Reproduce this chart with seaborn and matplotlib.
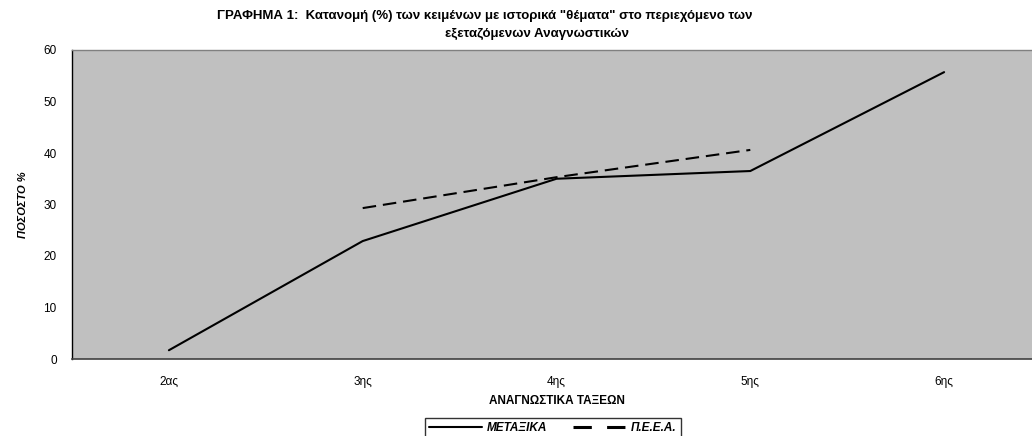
import pandas as pd
import matplotlib
matplotlib.use("Agg")
import matplotlib.pyplot as plt
import seaborn as sns

# data
classes = ["2ας", "3ης", "4ης", "5ης", "6ης"]
metaxika = [1.7, 22.9, 35.0, 36.5, 55.7]
peea_classes = ["3ης", "4ης", "5ης"]
peea = [29.3, 35.3, 40.6]

df = pd.concat([
    pd.DataFrame({"class": classes, "pct": metaxika, "series": "ΜΕΤΑΞΙΚΑ"}),
    pd.DataFrame({"class": peea_classes, "pct": peea, "series": "Π.Ε.Ε.Α."}),
], ignore_index=True)

sns.set_style("white")
plt.rcParams["font.family"] = ["Liberation Sans", "DejaVu Sans"]
plt.rcParams["text.color"] = "black"
plt.rcParams["axes.labelcolor"] = "black"
plt.rcParams["xtick.color"] = "black"
plt.rcParams["ytick.color"] = "black"

fig = plt.figure(figsize=(10.32, 4.36), dpi=100)
ax = fig.add_axes([72 / 1032, 1 - 359 / 436, 969 / 1032, 309 / 436])
ax.set_facecolor("#C0C0C0")

sns.lineplot(data=df, x="class", y="pct", hue="series", style="series",
             palette=["black", "black"], dashes=["", (6.5, 3.3)],
             linewidth=1.5, sort=False, legend=False, ax=ax)

ax.set_xlim(-0.5, 4.5)
ax.set_ylim(0, 60)
ax.set_yticks(range(0, 61, 10))
ax.set_xticks([i - 0.5 for i in range(6)], minor=True)
ax.tick_params(axis="x", which="major", length=0, pad=12, labelsize=8.5)
ax.tick_params(axis="x", which="minor", length=5, width=1, direction="out", color="black")
ax.tick_params(axis="y", length=5, width=1, direction="out", color="black", labelsize=8.5, pad=6)

for s in ["top", "right"]:
    ax.spines[s].set_color("#808080")
    ax.spines[s].set_linewidth(1)
ax.spines["left"].set_color("black")
ax.spines["bottom"].set_color("#404040")
ax.spines["left"].set_linewidth(1)
ax.spines["bottom"].set_linewidth(1.2)

ax.set_xlabel("ΑΝΑΓΝΩΣΤΙΚΑ ΤΑΞΕΩΝ", fontsize=8.5, fontweight="bold", labelpad=5)
ax.set_ylabel("ΠΟΣΟΣΤΟ %", fontsize=8, fontweight="bold", style="italic", labelpad=11)

fig.text(0.47, 0.978, 'ΓΡΑΦΗΜΑ 1:  Κατανομή (%) των κειμένων με ιστορικά "θέματα" στο περιεχόμενο των',
         ha="center", va="top", fontsize=9.5, fontweight="bold")
fig.text(0.52, 0.936, "εξεταζόμενων Αναγνωστικών",
         ha="center", va="top", fontsize=9.5, fontweight="bold")

handles = [plt.Line2D([], [], color="black", lw=1.5),
           plt.Line2D([], [], color="black", lw=2.2, dashes=(6, 5))]
leg = fig.legend(handles, ["ΜΕΤΑΞΙΚΑ", "Π.Ε.Ε.Α."], loc="upper center",
                 bbox_to_anchor=(553 / 1032, 1 - 418 / 436), ncol=2, frameon=True,
                 fancybox=False, edgecolor="black", handlelength=4.5, columnspacing=2.2,
                 borderpad=0.35, handletextpad=0.4, borderaxespad=0,
                 prop={"size": 8.5, "weight": "bold", "style": "italic"})
leg.get_frame().set_linewidth(1)

fig.savefig("out.png", dpi=100)
